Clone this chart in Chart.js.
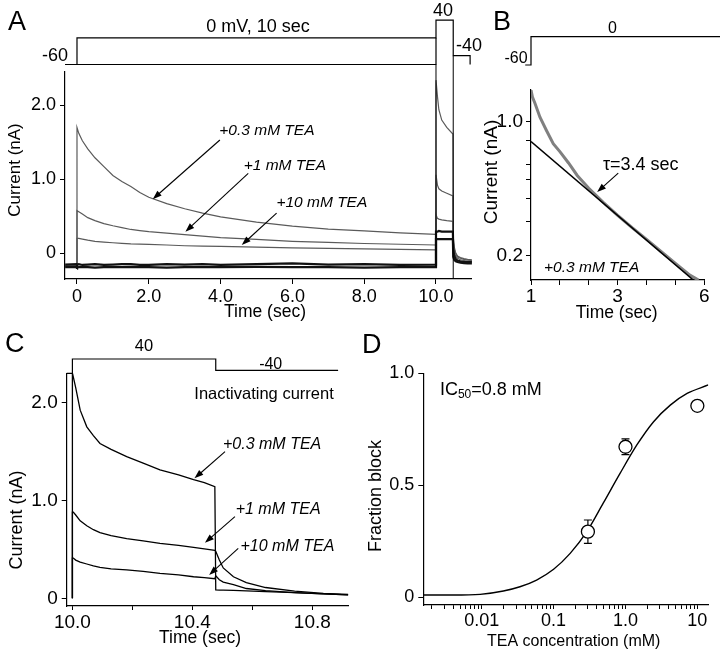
<!DOCTYPE html>
<html>
<head>
<meta charset="utf-8">
<script src="https://cdn.jsdelivr.net/npm/chart.js@4"></script>
<style>
  body { margin: 0; background: #fff; }
  #wrap { position: relative; width: 720px; height: 661px; }
  canvas { position: absolute; }
</style>
</head>
<body>
<div id="wrap">
  <canvas id="chartA" width="485" height="325" style="left:0;top:0"></canvas>
  <canvas id="chartB" width="240" height="325" style="left:480px;top:0"></canvas>
  <canvas id="chartC" width="360" height="336" style="left:0;top:325px"></canvas>
  <canvas id="chartD" width="360" height="336" style="left:360px;top:325px"></canvas>
</div>
<script>
// ---- panel A: 10 s at 0 mV, then 40 mV, then -40 mV
var timeA = [-0.33, -0.01, 0, 0.05, 0.15, 0.3, 0.5, 0.75, 1, 1.25, 1.5, 1.75, 2, 2.5, 3, 3.5, 4, 5, 6, 7, 8, 9, 10,
             10, 10.04, 10.08, 10.16, 10.3, 10.47, 10.48, 10.51, 10.55, 10.6, 10.68, 10.78, 10.88, 11.0];
var tea03A = [-0.17, -0.17, 1.70, 1.62, 1.52, 1.41, 1.29, 1.17, 1.05, 0.97, 0.90, 0.82, 0.755, 0.67, 0.60, 0.54, 0.49, 0.42, 0.365, 0.325, 0.30, 0.275, 0.255,
              2.34, 2.12, 1.94, 1.80, 1.70, 1.61, 0.22, 0.08, 0.0, -0.04, -0.06, -0.075, -0.085, -0.09];
var tea1A = [-0.17, -0.17, 0.575, 0.56, 0.53, 0.48, 0.44, 0.40, 0.37, 0.345, 0.32, 0.305, 0.29, 0.27, 0.25, 0.23, 0.21, 0.185, 0.16, 0.145, 0.13, 0.12, 0.11,
             1.06, 0.92, 0.87, 0.84, 0.81, 0.775, 0.16, 0.05, -0.01, -0.05, -0.07, -0.085, -0.095, -0.10];
var tea10A = [-0.17, -0.17, 0.20, 0.20, 0.19, 0.175, 0.16, 0.15, 0.14, 0.132, 0.125, 0.121, 0.118, 0.11, 0.10, 0.095, 0.09, 0.08, 0.072, 0.065, 0.057, 0.05, 0.045,
              0.52, 0.47, 0.46, 0.45, 0.44, 0.43, 0.10, 0.0, -0.04, -0.07, -0.09, -0.10, -0.11, -0.11];
var ctrl1A = [-0.155, -0.15, -0.16, -0.15, -0.16, -0.155, -0.15, -0.16, -0.155, -0.15, -0.15, -0.16, -0.16, -0.15, -0.155, -0.15, -0.16, -0.15, -0.14, -0.155, -0.15, -0.16, -0.155,
              0.29, 0.29, 0.30, 0.29, 0.29, 0.29, 0.05, -0.04, -0.08, -0.10, -0.11, -0.12, -0.12, -0.12];
var ctrl2A = [-0.19, -0.19, -0.195, -0.19, -0.185, -0.19, -0.195, -0.19, -0.19, -0.19, -0.185, -0.19, -0.19, -0.195, -0.19, -0.19, -0.19, -0.185, -0.19, -0.19, -0.195, -0.19, -0.19,
              0.19, 0.19, 0.19, 0.19, 0.19, 0.19, -0.05, -0.09, -0.11, -0.12, -0.13, -0.135, -0.14, -0.14];
var protoTimeA = [-0.33, 0, 0, 10, 10, 10.48, 10.48, 10.95, 10.95];
var protoMvA = [-60, -60, 0, 0, 40, 40, -40, -40, -60];
var holdTimeA = [-0.33, 10, 10];
var holdMvA = [-60, -60, 0];
var xTicksA = [0, 2, 4, 6, 8, 10];
var xLabelsA = ['0', '2.0', '4.0', '6.0', '8.0', '10.0'];
var yTicksA = [0, 1, 2];
var yLabelsA = ['0', '1.0', '2.0'];

// ---- panel B: log plot of the +0.3 mM TEA decay
var timeB = [1.0, 1.05, 1.14, 1.31, 1.54, 1.77, 2.0, 2.3, 2.6, 3.0, 3.5, 4.0, 4.5, 5.0, 5.5, 6.0, 6.5, 6.8];
var traceB = [1.47, 1.35, 1.25, 1.06, 0.90, 0.77, 0.70, 0.61, 0.525, 0.45, 0.38, 0.325, 0.28, 0.243, 0.21, 0.182, 0.158, 0.149];
var fitTimeB = [1.0, 6.62];
var fitB = [0.79, 0.149];
var protoTimeB = [0.8, 1, 1, 7.6];
var protoMvB = [-60, -60, 0, 0];
var xTicksB = [1, 2, 3, 4, 5, 6, 7];
var xLabelsB = ['1', '', '', '3', '', '', '6'];
var yTicksB = [0.2, 0.3, 0.4, 0.5, 0.6, 0.8, 1.0];
var yLabelsB = ['0.2', '', '', '', '', '', '1.0'];

// ---- panel C: inactivating current at 40 mV
var timeC = [10.0, 10.0, 10.003, 10.011, 10.026, 10.048, 10.07, 10.092, 10.129, 10.181, 10.236, 10.292, 10.354, 10.404, 10.44, 10.475,
             10.478, 10.49, 10.503, 10.537, 10.58, 10.644, 10.741, 10.837, 10.92];
var tea03C = [0, 2.30, 2.26, 2.15, 1.92, 1.75, 1.66, 1.58, 1.52, 1.445, 1.38, 1.31, 1.26, 1.21, 1.18, 1.14,
              0.085, 0.084, 0.083, 0.08, 0.075, 0.068, 0.058, 0.045, 0.034];
var tea1C = [0, 0.88, 0.88, 0.85, 0.79, 0.74, 0.70, 0.67, 0.64, 0.61, 0.585, 0.56, 0.54, 0.52, 0.505, 0.49,
             0.48, 0.39, 0.31, 0.22, 0.16, 0.11, 0.074, 0.05, 0.04];
var tea10C = [0, 0.41, 0.41, 0.39, 0.37, 0.35, 0.33, 0.315, 0.30, 0.29, 0.275, 0.255, 0.24, 0.22, 0.21, 0.20,
              0.23, 0.19, 0.165, 0.14, 0.10, 0.078, 0.058, 0.045, 0.034];
var protoTimeC = [9.981, 10, 10, 10.478, 10.478, 10.886];
var protoMvC = [-60, -60, 40, 40, -40, -40];
var xTicksC = [10.0, 10.2, 10.4, 10.6, 10.8];
var xLabelsC = ['10.0', '', '10.4', '', '10.8'];
var yTicksC = [0, 1, 2];
var yLabelsC = ['0', '1.0', '2.0'];

// ---- panel D: dose response
var concD = [0.3, 1.0, 10];
var blockD = [0.293, 0.672, 0.855];
var semD = [0.052, 0.035, 0];
var fitConcD = [0.0015, 0.004, 0.0095, 0.02, 0.034, 0.058, 0.1, 0.17, 0.29, 0.49, 0.84, 1.44, 2.46, 4.2, 7.2, 14.2];
var fitBlockD = [0.01, 0.01, 0.013, 0.028, 0.047, 0.077, 0.125, 0.196, 0.293, 0.42, 0.553, 0.68, 0.784, 0.858, 0.91, 0.948];
var decadesD = [0.001, 0.01, 0.1, 1, 10];
var decadeLabelsD = ['', '0.01', '0.1', '1.0', '10'];
var yTicksD = [0, 0.5, 1];
var yLabelsD = ['0', '0.5', '1.0'];

var FONT = "'Liberation Sans', Arial, Helvetica, sans-serif";

function pts(xs, ys) {
  return xs.map(function(x, i) { return { x: x, y: ys[i] }; });
}

function trace(xs, ys, color, width, axis) {
  var d = { data: pts(xs, ys), showLine: true, borderColor: color, borderWidth: width,
            pointRadius: 0, tension: 0, yAxisID: axis || 'y' };
  if (axis === 'yp') d.clip = false;
  return d;
}

function axis(o) {
  return {
    type: o.type || 'linear',
    position: o.position,
    bounds: 'data',
    min: o.min, max: o.max,
    afterBuildTicks: function(s) {
      s.ticks = o.ticks.map(function(v, i) { return { value: v, lab: o.labels[i] }; });
    },
    afterFit: function(s) {
      if (s.isHorizontal()) s.height = o.size; else s.width = o.size;
    },
    ticks: { autoSkip: false, maxRotation: 0, minRotation: 0, padding: o.pad, color: '#000',
             font: { family: FONT, size: o.font },
             callback: function(v, i, t) { return t[i].lab; } },
    grid: { drawOnChartArea: false, drawTicks: true, tickLength: o.tickLen || 5, color: '#000', lineWidth: 1 },
    border: { display: true, color: '#000', width: 1.2 },
    title: { display: false }
  };
}

function arrow(ctx, x1, y1, x2, y2) {
  var a = Math.atan2(y2 - y1, x2 - x1), L = 9, W = 3.2;
  ctx.beginPath();
  ctx.moveTo(x1, y1);
  ctx.lineTo(x2 - Math.cos(a) * L * 0.7, y2 - Math.sin(a) * L * 0.7);
  ctx.stroke();
  ctx.beginPath();
  ctx.moveTo(x2, y2);
  ctx.lineTo(x2 - L * Math.cos(a) + W * Math.sin(a), y2 - L * Math.sin(a) - W * Math.cos(a));
  ctx.lineTo(x2 - L * Math.cos(a) - W * Math.sin(a), y2 - L * Math.sin(a) + W * Math.cos(a));
  ctx.closePath();
  ctx.fill();
}

// texts, arrows, protocol step lines and error bars
var notesPlugin = {
  id: 'notes',
  beforeDatasetsDraw: function(chart, args, opts) {
    if (!opts.errors) return;
    var ctx = chart.ctx, e = opts.errors;
    ctx.save();
    ctx.strokeStyle = '#000';
    ctx.lineWidth = 1.2;
    e.xs.forEach(function(x, i) {
      if (!e.errs[i]) return;
      var px = chart.scales.x.getPixelForValue(x);
      var top = chart.scales.y.getPixelForValue(e.ys[i] + e.errs[i]);
      var bot = chart.scales.y.getPixelForValue(e.ys[i] - e.errs[i]);
      ctx.beginPath();
      ctx.moveTo(px, top); ctx.lineTo(px, bot);
      ctx.moveTo(px - 4, top); ctx.lineTo(px + 4, top);
      ctx.moveTo(px - 4, bot); ctx.lineTo(px + 4, bot);
      ctx.stroke();
    });
    ctx.restore();
  },
  afterDatasetsDraw: function(chart, args, opts) {
    var ctx = chart.ctx;
    function pos(x, y, ax) {
      if (ax === 'px') return [x, y];
      return [chart.scales.x.getPixelForValue(x), chart.scales[ax || 'y'].getPixelForValue(y)];
    }
    ctx.save();
    ctx.fillStyle = '#000';
    ctx.strokeStyle = '#000';
    ctx.lineWidth = 1;
    (opts.markers || []).forEach(function(m) {
      var x = chart.scales.x.getPixelForValue(m.t);
      var y0 = m.y0 == null ? chart.chartArea.bottom : chart.scales.y.getPixelForValue(m.y0);
      var y1 = chart.scales.yp.getPixelForValue(m.mv);
      ctx.beginPath(); ctx.moveTo(x, y0); ctx.lineTo(x, y1); ctx.stroke();
    });
    ctx.lineWidth = 1.1;
    (opts.arrows || []).forEach(function(a) {
      var p1 = pos(a.x1, a.y1, a.axis), p2 = pos(a.x2, a.y2, a.axis);
      arrow(ctx, p1[0], p1[1], p2[0], p2[1]);
    });
    (opts.texts || []).forEach(function(t) {
      var p = pos(t.x, t.y, t.axis);
      ctx.save();
      ctx.translate(p[0], p[1]);
      if (t.rotate) ctx.rotate(t.rotate * Math.PI / 180);
      ctx.textBaseline = t.base || 'middle';
      if (t.parts) {
        var cx = 0;
        ctx.textAlign = 'left';
        t.parts.forEach(function(q) {
          ctx.font = q.size + 'px ' + FONT;
          ctx.fillText(q.text, cx, q.dy || 0);
          cx += ctx.measureText(q.text).width;
        });
      } else {
        ctx.font = (t.italic ? 'italic ' : '') + t.size + 'px ' + FONT;
        ctx.textAlign = t.align || 'center';
        ctx.fillText(t.text, 0, 0);
      }
      ctx.restore();
    });
    ctx.restore();
  }
};

function makeChart(id, datasets, scales, padding, notes) {
  return new Chart(document.getElementById(id), {
    type: 'scatter',
    data: { datasets: datasets },
    options: {
      responsive: false, animation: false, devicePixelRatio: 1, events: [],
      layout: { padding: padding },
      scales: scales,
      plugins: { legend: { display: false }, tooltip: { enabled: false }, notes: notes }
    },
    plugins: [notesPlugin]
  });
}

// Panel A
makeChart('chartA', [
  trace(timeA, ctrl1A, '#111', 2.2),
  trace(timeA, ctrl2A, '#111', 2.2),
  trace(timeA, tea03A, '#5a5a5a', 1.2),
  trace(timeA, tea1A, '#5a5a5a', 1.2),
  trace(timeA, tea10A, '#5a5a5a', 1.2),
  trace(protoTimeA, protoMvA, '#000', 1.2, 'yp'),
  trace(holdTimeA, holdMvA, '#000', 1.2, 'yp')
], {
  x: axis({ position: 'bottom', min: -0.334, max: 11.0, ticks: xTicksA, labels: xLabelsA, size: 46, pad: 2, font: 18 }),
  y: axis({ position: 'left', min: -0.35, max: 2.45, ticks: yTicksA, labels: yLabelsA, size: 65, pad: 4, font: 18 }),
  yp: { type: 'linear', display: false, min: -542, max: -76.8 }
}, { left: 0, top: 72, right: 13.1, bottom: 0 }, {
  markers: [{ t: 10, y0: -0.19, mv: -60 }, { t: 10.48, y0: null, mv: -40 }],
  arrows: [
    { x1: 3.98, y1: 1.53, x2: 2.11, y2: 0.73 },
    { x1: 4.77, y1: 1.08, x2: 3.02, y2: 0.29 },
    { x1: 5.56, y1: 0.54, x2: 4.59, y2: 0.11 }
  ],
  texts: [
    { text: 'A', x: 8, y: 30, axis: 'px', size: 27, align: 'left', base: 'alphabetic' },
    { text: '-60', x: 55, y: 56, axis: 'px', size: 18 },
    { text: '0 mV, 10 sec', x: 258, y: 27.5, axis: 'px', size: 18 },
    { text: '40', x: 443, y: 11, axis: 'px', size: 18 },
    { text: '-40', x: 469, y: 46, axis: 'px', size: 18 },
    { text: 'Current (nA)', x: 15.5, y: 170, axis: 'px', size: 17, rotate: -90 },
    { text: 'Time (sec)', x: 265, y: 312, axis: 'px', size: 17.5 },
    { text: '+0.3 mM TEA', x: 5.29, y: 1.65, size: 15.5, italic: true },
    { text: '+1 mM TEA', x: 5.79, y: 1.18, size: 15.5, italic: true },
    { text: '+10 mM TEA', x: 6.82, y: 0.68, size: 15.5, italic: true }
  ]
});

// Panel B
makeChart('chartB', [
  trace(fitTimeB, fitB, '#000', 1.6),
  trace(timeB, traceB, '#808080', 3),
  trace(protoTimeB, protoMvB, '#000', 1.2, 'yp')
], {
  x: axis({ position: 'bottom', min: 1, max: 7, ticks: xTicksB, labels: xLabelsB, size: 45, pad: 0, font: 19 }),
  y: axis({ type: 'logarithmic', position: 'left', min: 0.149, max: 1.47, ticks: yTicksB, labels: yLabelsB, size: 51, pad: 3, font: 19 }),
  yp: { type: 'linear', display: false, min: -515.8, max: -113 }
}, { left: 0, top: 90, right: 15.7, bottom: 0 }, {
  arrows: [{ x1: 4.02, y1: 0.54, x2: 3.29, y2: 0.43 }],
  texts: [
    { text: 'B', x: 13, y: 30, axis: 'px', size: 27, align: 'left', base: 'alphabetic' },
    { text: '0', x: 132.5, y: 29, axis: 'px', size: 16 },
    { text: '-60', x: 36, y: 59, axis: 'px', size: 16 },
    { text: 'Current (nA)', x: 11.5, y: 172, axis: 'px', size: 19, rotate: -90 },
    { text: 'Time (sec)', x: 136.7, y: 313, axis: 'px', size: 17.5 },
    { text: '\u03c4=3.4 sec', x: 4.80, y: 0.593, size: 18 },
    { text: '+0.3 mM TEA', x: 3.10, y: 0.172, size: 15.5, italic: true }
  ]
});

// Panel C
makeChart('chartC', [
  trace(timeC, tea03C, '#000', 1.3),
  trace(timeC, tea1C, '#000', 1.3),
  trace(timeC, tea10C, '#000', 1.3),
  trace(protoTimeC, protoMvC, '#000', 1.2, 'yp')
], {
  x: axis({ position: 'bottom', min: 9.981, max: 10.92, ticks: xTicksC, labels: xLabelsC, size: 43, pad: 1, font: 19, tickLen: 4 }),
  y: axis({ position: 'left', min: -0.0786, max: 2.296, ticks: yTicksC, labels: yLabelsC, size: 66.7, pad: 4, font: 19 }),
  yp: { type: 'linear', display: false, min: -1687.3, max: -60 }
}, { left: 0, top: 48.3, right: 11.7, bottom: 12 }, {
  arrows: [
    { x1: 10.509, y1: 1.496, x2: 10.407, y2: 1.224 },
    { x1: 10.542, y1: 0.833, x2: 10.442, y2: 0.567 },
    { x1: 10.553, y1: 0.51, x2: 10.456, y2: 0.238 }
  ],
  texts: [
    { text: 'C', x: 5, y: 27, axis: 'px', size: 27, align: 'left', base: 'alphabetic' },
    { text: '40', x: 144, y: 21.7, axis: 'px', size: 16.5 },
    { text: '-40', x: 270.7, y: 40, axis: 'px', size: 16 },
    { text: 'Current (nA)', x: 17, y: 195, axis: 'px', size: 18, rotate: -90 },
    { text: 'Time (sec)', x: 200, y: 313, axis: 'px', size: 17.5 },
    { text: 'Inactivating current', x: 10.639, y: 2.08, size: 16.5 },
    { text: '+0.3 mM TEA', x: 10.666, y: 1.564, size: 16, italic: true },
    { text: '+1 mM TEA', x: 10.686, y: 0.901, size: 16, italic: true },
    { text: '+10 mM TEA', x: 10.717, y: 0.529, size: 16, italic: true }
  ]
});

// Panel D: log x ticks at 2..9 x each decade, labels on the decades
var xTicksD = [], xLabelsD = [];
decadesD.forEach(function(d, k) {
  for (var m = 1; m <= 9; m++) {
    var v = +(d * m).toPrecision(3);
    if (v < 0.0016 || v > 14) continue;
    xTicksD.push(v);
    xLabelsD.push(m === 1 ? decadeLabelsD[k] : '');
  }
});

makeChart('chartD', [
  { data: pts(concD, blockD), showLine: false, pointRadius: 6.5, pointBackgroundColor: '#fff',
    pointBorderColor: '#000', pointBorderWidth: 1.3, yAxisID: 'y' },
  trace(fitConcD, fitBlockD, '#000', 1.4)
].map(function(d, i) { if (i === 1) d.cubicInterpolationMode = 'monotone'; return d; }), {
  x: axis({ type: 'logarithmic', position: 'bottom', min: 0.001538, max: 14.2, ticks: xTicksD, labels: xLabelsD,
            size: 50, pad: 1, font: 18, tickLen: 4 }),
  y: axis({ position: 'left', min: -0.0344, max: 1.0, ticks: yTicksD, labels: yLabelsD, size: 48.3, pad: 4, font: 18 })
}, { left: 15, top: 48.3, right: 11.7, bottom: 6 }, {
  errors: { xs: concD, ys: blockD, errs: semD },
  texts: [
    { text: 'D', x: 2, y: 28, axis: 'px', size: 27, align: 'left', base: 'alphabetic' },
    { text: 'Fraction block', x: 16, y: 171, axis: 'px', size: 18, rotate: -90 },
    { text: 'TEA concentration (mM)', x: 213.7, y: 316.7, axis: 'px', size: 16 },
    { x: 0.00262, y: 0.925, parts: [
        { text: 'IC', size: 18 }, { text: '50', size: 12, dy: 5 }, { text: '=0.8 mM', size: 18 }
      ] }
  ]
});
</script>
</body>
</html>
